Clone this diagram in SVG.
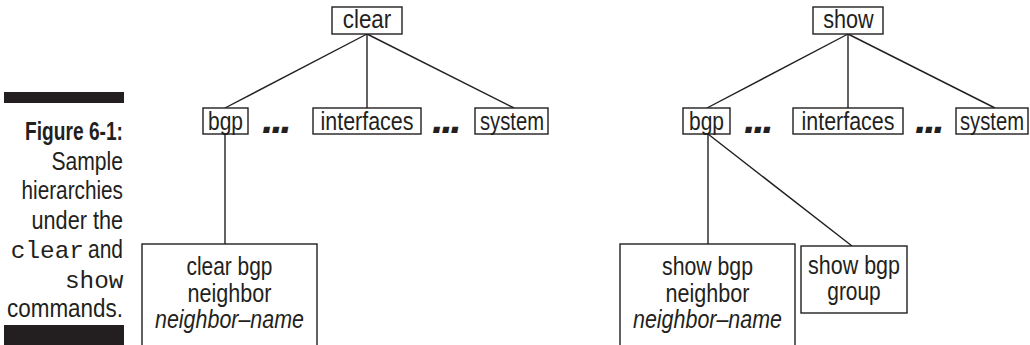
<svg xmlns="http://www.w3.org/2000/svg" width="1030" height="345" viewBox="0 0 1030 345">
  <style>
    .box { fill: #ffffff; stroke: #231f20; stroke-width: 1.4; }
    .lbl { font-family: "Liberation Sans", Arial, sans-serif; font-size: 26px; fill: #231f20; text-anchor: middle; }
    .ml { font-size: 25px; }
    .it { font-style: italic; }
    .dots { font-family: "Liberation Sans", Arial, sans-serif; font-weight: bold; font-style: italic; font-size: 42px; fill: #231f20; letter-spacing: -2.5px; }
    .cap { font-family: "Liberation Sans", Arial, sans-serif; font-size: 26px; fill: #231f20; text-anchor: end; }
    .mono { font-family: "Liberation Mono", "Courier New", monospace; font-size: 24.4px; fill: #231f20; text-anchor: end; }
    .edge { stroke: #231f20; stroke-width: 1.4; fill: none; }
  </style>

  <!-- caption column; condensed lettering via textLength -->
  <g id="caption">
    <rect x="4" y="92" width="120" height="11" fill="#231f20"/>
    <text class="cap" x="123" y="140" font-weight="bold" textLength="98" lengthAdjust="spacingAndGlyphs">Figure 6-1:</text>
    <text class="cap" x="123" y="169.5" textLength="71.5" lengthAdjust="spacingAndGlyphs">Sample</text>
    <text class="cap" x="123" y="199" textLength="101.5" lengthAdjust="spacingAndGlyphs">hierarchies</text>
    <text class="cap" x="123" y="228.5" textLength="91.5" lengthAdjust="spacingAndGlyphs">under the</text>
    <text class="mono" x="84" y="258">clear</text>
    <text class="cap" x="123" y="258" textLength="35" lengthAdjust="spacingAndGlyphs">and</text>
    <text class="mono" x="123.5" y="287.5">show</text>
    <text class="cap" x="123" y="317" textLength="116" lengthAdjust="spacingAndGlyphs">commands.</text>
    <rect x="4" y="325" width="120" height="25" fill="#231f20"/>
  </g>

  <!-- connectors -->
  <g id="connectors">
    <line class="edge" x1="367" y1="34" x2="225" y2="108"/>
    <line class="edge" x1="367" y1="34" x2="367" y2="108"/>
    <line class="edge" x1="367" y1="34" x2="514" y2="108"/>
    <line class="edge" x1="225" y1="134" x2="225" y2="244"/>

    <line class="edge" x1="848" y1="34" x2="707" y2="108"/>
    <line class="edge" x1="848" y1="34" x2="848" y2="108"/>
    <line class="edge" x1="848" y1="34" x2="995" y2="108"/>
    <line class="edge" x1="708" y1="134" x2="708" y2="244"/>
    <line class="edge" x1="708" y1="134" x2="852" y2="246"/>
  </g>

  <!-- clear tree -->
  <g id="clear">
    <rect class="box" x="332" y="7" width="70" height="27"/>
    <text class="lbl" x="367" y="28" textLength="48.5" lengthAdjust="spacingAndGlyphs">clear</text>
  </g>
  <g id="clear-bgp">
    <rect class="box" x="203" y="108" width="45" height="26"/>
    <text class="lbl" x="225.5" y="129.5" textLength="35" lengthAdjust="spacingAndGlyphs">bgp</text>
  </g>
  <text class="dots" x="262" y="133">...</text>
  <g id="clear-interfaces">
    <rect class="box" x="313" y="108" width="108" height="26"/>
    <text class="lbl" x="367" y="129.5" textLength="93" lengthAdjust="spacingAndGlyphs">interfaces</text>
  </g>
  <text class="dots" x="432" y="133">...</text>
  <g id="clear-system">
    <rect class="box" x="475" y="108" width="73" height="26"/>
    <text class="lbl" x="512" y="129.5" textLength="64" lengthAdjust="spacingAndGlyphs">system</text>
  </g>
  <g id="clear-bgp-neighbor">
    <rect class="box" x="142" y="244" width="175" height="104"/>
    <text class="lbl ml" x="229.5" y="275" textLength="86" lengthAdjust="spacingAndGlyphs">clear bgp</text>
    <text class="lbl ml" x="229.5" y="301.5" textLength="84" lengthAdjust="spacingAndGlyphs">neighbor</text>
    <text class="lbl ml it" x="229.5" y="327.5" textLength="149" lengthAdjust="spacingAndGlyphs">neighbor–name</text>
  </g>

  <!-- show tree -->
  <g id="show">
    <rect class="box" x="813" y="7" width="70" height="27"/>
    <text class="lbl" x="848.5" y="28" textLength="50.5" lengthAdjust="spacingAndGlyphs">show</text>
  </g>
  <g id="show-bgp">
    <rect class="box" x="683" y="108" width="47" height="26"/>
    <text class="lbl" x="706.5" y="129.5" textLength="35" lengthAdjust="spacingAndGlyphs">bgp</text>
  </g>
  <text class="dots" x="744" y="133">...</text>
  <g id="show-interfaces">
    <rect class="box" x="793" y="108" width="110" height="26"/>
    <text class="lbl" x="848" y="129.5" textLength="93" lengthAdjust="spacingAndGlyphs">interfaces</text>
  </g>
  <text class="dots" x="915" y="133">...</text>
  <g id="show-system">
    <rect class="box" x="956" y="108" width="72" height="26"/>
    <text class="lbl" x="992" y="129.5" textLength="64" lengthAdjust="spacingAndGlyphs">system</text>
  </g>
  <g id="show-bgp-neighbor">
    <rect class="box" x="620" y="244" width="175" height="104"/>
    <text class="lbl ml" x="707.5" y="275" textLength="91" lengthAdjust="spacingAndGlyphs">show bgp</text>
    <text class="lbl ml" x="707.5" y="301.5" textLength="84" lengthAdjust="spacingAndGlyphs">neighbor</text>
    <text class="lbl ml it" x="707.5" y="327.5" textLength="149" lengthAdjust="spacingAndGlyphs">neighbor–name</text>
  </g>
  <g id="show-bgp-group">
    <rect class="box" x="801" y="246" width="106" height="67"/>
    <text class="lbl ml" x="854" y="273.5" textLength="92" lengthAdjust="spacingAndGlyphs">show bgp</text>
    <text class="lbl ml" x="854" y="300" textLength="53.5" lengthAdjust="spacingAndGlyphs">group</text>
  </g>
</svg>
